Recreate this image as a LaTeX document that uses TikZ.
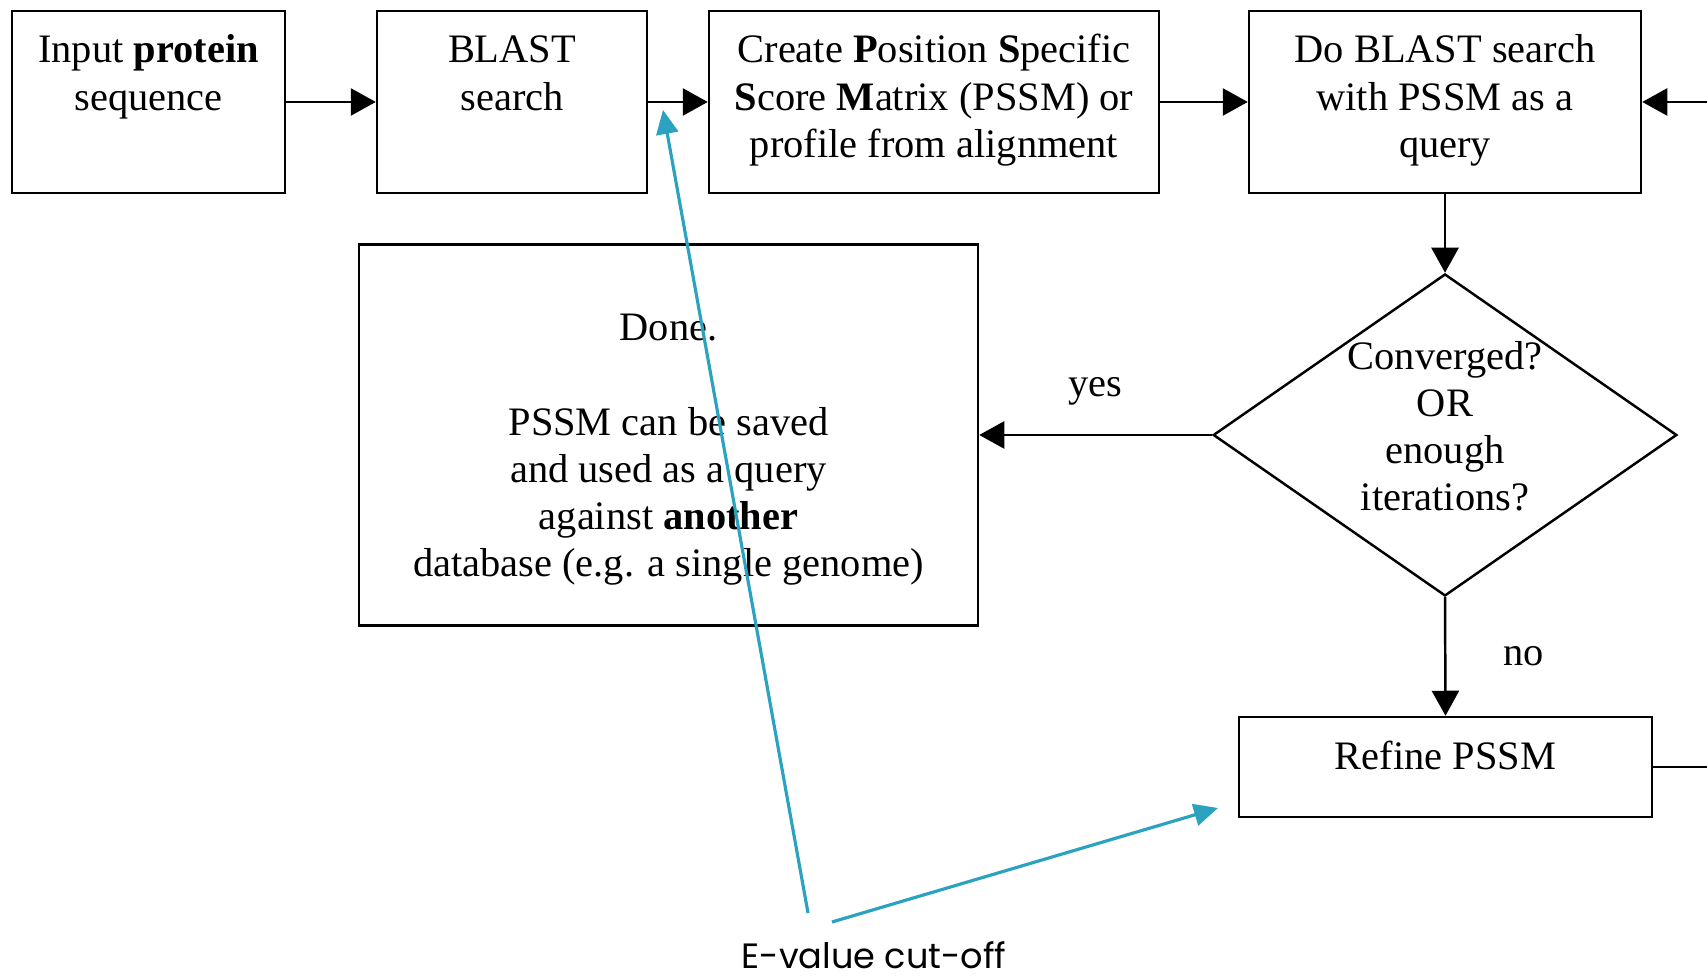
\documentclass[tikz,border=0pt]{standalone}
\usepackage{fontspec}
\setmainfont{Liberation Serif}
\newfontfamily\notefont{Poppins}
\usetikzlibrary{arrows.meta,shapes.geometric}
\definecolor{cutoff}{RGB}{43,163,192}
\newcommand{\steptext}[3]{\parbox[c][#2][t]{#1}{\centering\rule{0pt}{14.8pt}#3}}

\begin{document}
\begin{tikzpicture}[
    every node/.style={font=\fontsize{11.5}{13.4}\selectfont},
    stepbox/.style={draw, rectangle, inner sep=0pt, line width=0.7pt},
    flow/.style={line width=0.7pt, -{Triangle[length=0.25cm,width=0.27cm]}},
    pointer/.style={cutoff, line width=0.9pt, -{Triangle[length=0.24cm,width=0.22cm]}}]
  \useasboundingbox (0,0) rectangle (17.07,9.77);
  \node[stepbox] (input) at (1.485,8.75) {\steptext{2.73cm}{1.82cm}{Input \textbf{protein}\\sequence}};
  \node[stepbox] (blast) at (5.12,8.75) {\steptext{2.70cm}{1.82cm}{BLAST\\search}};
  \node[stepbox] (create) at (9.34,8.75) {\steptext{4.50cm}{1.82cm}{Create \textbf{P}osition \textbf{S}pecific\\\textbf{S}core \textbf{M}atrix (PSSM) or\\profile from alignment}};
  \node[stepbox] (search) at (14.45,8.75) {\steptext{3.92cm}{1.82cm}{Do BLAST search\\with PSSM as a\\query}};
  \node[diamond, draw, line width=0.7pt, inner sep=0pt, aspect=1.44, minimum width=4.63cm, minimum height=3.21cm, align=center] (check) at (14.45,5.42) {Converged?\\OR\\enough\\iterations?\rule[-5pt]{0pt}{0pt}};
  \node[stepbox, minimum width=6.19cm, minimum height=3.81cm, align=center] (done) at (6.685,5.42) {\rule{0pt}{16pt}Done.\\[13.4pt]PSSM can be saved\\and used as a query\\against \textbf{another}\\database (e.g. a single genome)};
  \node[stepbox] (refine) at (14.455,2.10) {\steptext{4.13cm}{1.00cm}{Refine PSSM}};
  \draw[flow] (input.east) -- (blast.west);
  \draw[flow] (blast.east) -- (create.west);
  \draw[flow] (create.east) -- (search.west);
  \draw[flow] (search.south) -- (check.north);
  \draw[flow] (check.west) -- node[above=0.17cm]{yes} (done.east);
  \draw[flow] (check.south) -- node[right=0.45cm]{no} (refine.north);
  \draw[flow] (refine.east) -- ++(0.6,0) |- (search.east);
  \node[font=\notefont\fontsize{10}{12}\selectfont, inner sep=1pt] (evalue) at (8.74,0.22) {E-value cut-off};
  \coordinate (tailgap) at (8.08,0.64);
  \coordinate (tailrefine) at (8.32,0.55);
  \coordinate (gap) at (6.63,8.67);
  \coordinate (nearrefine) at (12.18,1.69);
  \draw[pointer] (tailgap) -- (gap);
  \draw[pointer] (tailrefine) -- (nearrefine);
\end{tikzpicture}
\end{document}
